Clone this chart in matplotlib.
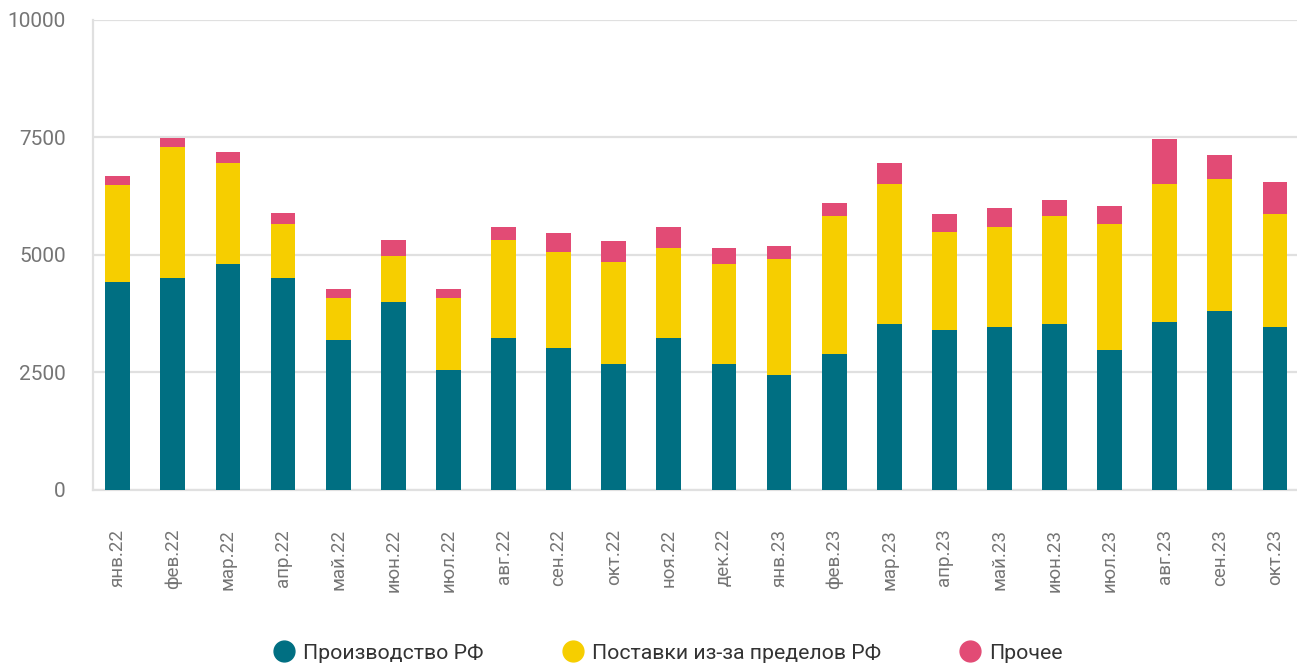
import numpy as np
import matplotlib.pyplot as plt
from matplotlib.lines import Line2D

plt.rcParams['font.family'] = ['Roboto', 'DejaVu Sans']

months = ['янв.22', 'фев.22', 'мар.22', 'апр.22', 'май.22', 'июн.22', 'июл.22',
          'авг.22', 'сен.22', 'окт.22', 'ноя.22', 'дек.22', 'янв.23', 'фев.23',
          'мар.23', 'апр.23', 'май.23', 'июн.23', 'июл.23', 'авг.23', 'сен.23', 'окт.23']
production = [4430, 4500, 4800, 4500, 3200, 3990, 2560, 3240, 3030, 2690, 3240,
              2690, 2450, 2900, 3540, 3410, 3470, 3540, 2970, 3580, 3810, 3470]
imports = [2050, 2790, 2150, 1150, 890, 980, 1530, 2070, 2040, 2160, 1900,
           2110, 2460, 2920, 2960, 2070, 2120, 2280, 2680, 2920, 2800, 2400]
other = [190, 190, 230, 235, 190, 340, 190, 280, 400, 450, 450,
         340, 280, 280, 450, 400, 400, 340, 400, 960, 510, 680]
series_names = ['Производство РФ', 'Поставки из-за пределов РФ', 'Прочее']
colors = ['#006f82', '#f6ce00', '#e24b75']

fig = plt.figure(figsize=(12.97, 6.63), dpi=100)
ax = fig.add_axes([0.0717, 0.261, 0.9283, 0.709])

x = np.arange(len(months))
w = 0.45
prod = np.array(production)
imp = np.array(imports)
ax.bar(x, prod, w, color=colors[0], zorder=3)
ax.bar(x, imp, w, bottom=prod, color=colors[1], zorder=3)
ax.bar(x, other, w, bottom=prod + imp, color=colors[2], zorder=3)

ax.set_xlim(-0.45, 21.4)
ax.set_ylim(0, 10000)
ax.set_yticks([0, 2500, 5000, 7500, 10000])
ax.grid(axis='y', color='#e0e0e0', linewidth=1.6, zorder=0)
ax.set_xticks(x)
ax.set_xticklabels(months, rotation=90, va='top', ha='center')
ax.tick_params(axis='both', length=0, labelsize=13.5, labelcolor='#757575')
ax.tick_params(axis='x', pad=28)
ax.tick_params(axis='y', pad=19.5)
for lab in ax.get_yticklabels():
    lab.set_fontsize(15)

for side in ['top', 'right']:
    ax.spines[side].set_visible(False)
ax.spines['left'].set_color('#e0e0e0')
ax.spines['left'].set_linewidth(1.6)
ax.spines['bottom'].set_color('#e0e0e0')
ax.spines['bottom'].set_linewidth(1.6)

handles = [Line2D([], [], marker='o', linestyle='', markersize=15,
                  markerfacecolor=c, markeredgecolor=c) for c in colors]
fig.legend(handles, series_names, loc='center', bbox_to_anchor=(0.515, 0.015),
           ncol=3, frameon=False, fontsize=15.3, columnspacing=3.7,
           handlelength=1.0, handletextpad=0.4, labelcolor='#333333')

fig.savefig('out.png', dpi=100)
